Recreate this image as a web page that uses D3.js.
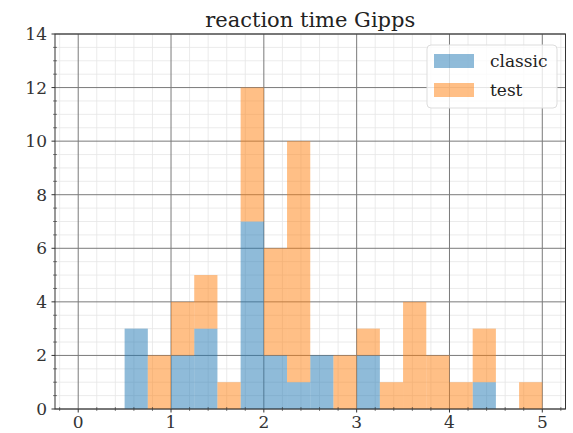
<!DOCTYPE html>
<html><head><meta charset="utf-8">
<script src="https://cdn.jsdelivr.net/npm/d3@7"></script>
<style>body{margin:0;background:#fff}svg{display:block}</style>
</head><body><svg id="c" width="573" height="433"></svg>
<script>
const title = "reaction time Gipps";
const seriesNames = ["classic", "test"];
const binStarts = [0.5,0.75,1.0,1.25,1.5,1.75,2.0,2.25,2.5,2.75,3.0,3.25,3.5,3.75,4.0,4.25,4.5,4.75];
const binWidth = 0.25;
const classicCounts = [3,0,2,3,0,7,2,1,2,0,2,0,0,0,0,1,0,0];
const testCounts    = [0,2,2,2,1,5,4,9,0,2,1,1,4,2,1,2,0,1];
const xTicks = [0,1,2,3,4,5];
const yTicks = [0,2,4,6,8,10,12,14];
const colors = ["#1f77b4", "#ff7f0e"];

const svg = d3.select("#c");
const m = {l:55, r:565.5, t:34, b:409};
const x = d3.scaleLinear().domain([-0.25, 5.25]).range([m.l, m.r]);
const y = d3.scaleLinear().domain([0, 14]).range([m.b, m.t]);
const font = "'DejaVu Serif', serif";

// minor grid
const xMinor = d3.range(-0.2, 5.25, 0.2).filter(v => Math.abs(v - Math.round(v)) > 1e-6);
const yMinor = d3.range(0.5, 14, 0.5).filter(v => Math.abs(v/2 - Math.round(v/2)) > 1e-6);
const g = svg.append("g");
g.selectAll(".mx").data(xMinor).join("line")
  .attr("x1", d=>x(d)).attr("x2", d=>x(d)).attr("y1", m.t).attr("y2", m.b)
  .attr("stroke", "#e6e6e6").attr("stroke-width", 0.8);
g.selectAll(".my").data(yMinor).join("line")
  .attr("x1", m.l).attr("x2", m.r).attr("y1", d=>y(d)).attr("y2", d=>y(d))
  .attr("stroke", "#e6e6e6").attr("stroke-width", 0.8);
// major grid
g.selectAll(".gx").data(xTicks).join("line")
  .attr("x1", d=>x(d)).attr("x2", d=>x(d)).attr("y1", m.t).attr("y2", m.b)
  .attr("stroke", "#7a7a7a").attr("stroke-width", 1);
g.selectAll(".gy").data(yTicks).join("line")
  .attr("x1", m.l).attr("x2", m.r).attr("y1", d=>y(d)).attr("y2", d=>y(d))
  .attr("stroke", "#7a7a7a").attr("stroke-width", 1);

// stacked bars
const rows = binStarts.map((b,i)=>({bin:b, classic:classicCounts[i], test:testCounts[i]}));
const stack = d3.stack().keys(seriesNames)(rows);
stack.forEach((layer, k) => {
  svg.append("g").selectAll("rect").data(layer.filter(d => d[1] > d[0])).join("rect")
    .attr("x", d => x(d.data.bin))
    .attr("width", d => x(d.data.bin + binWidth) - x(d.data.bin))
    .attr("y", d => y(d[1]))
    .attr("height", d => y(d[0]) - y(d[1]))
    .attr("fill", colors[k]).attr("fill-opacity", 0.5);
});

// spines
svg.append("rect").attr("x", m.l).attr("y", m.t).attr("width", m.r-m.l).attr("height", m.b-m.t)
  .attr("fill", "none").attr("stroke", "#333").attr("stroke-width", 1);

// ticks
const ax = svg.append("g").attr("stroke", "#333");
ax.selectAll(".tx").data(xTicks).join("line")
  .attr("x1", d=>x(d)).attr("x2", d=>x(d)).attr("y1", m.b).attr("y2", m.b+3.5);
ax.selectAll(".ty").data(yTicks).join("line")
  .attr("x1", m.l-3.5).attr("x2", m.l).attr("y1", d=>y(d)).attr("y2", d=>y(d));
ax.selectAll(".tmx").data(xMinor).join("line")
  .attr("x1", d=>x(d)).attr("x2", d=>x(d)).attr("y1", m.b-2).attr("y2", m.b+2).attr("stroke-width", 0.6);
ax.selectAll(".tmy").data(yMinor).join("line")
  .attr("x1", m.l-2).attr("x2", m.l+2).attr("y1", d=>y(d)).attr("y2", d=>y(d)).attr("stroke-width", 0.6);

// tick labels
svg.append("g").selectAll("text").data(xTicks).join("text")
  .attr("x", d=>x(d)).attr("y", m.b+19).attr("text-anchor", "middle")
  .attr("font-family", font).attr("font-size", 17).attr("fill", "#333").text(d=>d);
svg.append("g").selectAll("text").data(yTicks).join("text")
  .attr("x", m.l-8).attr("y", d=>y(d)+6).attr("text-anchor", "end")
  .attr("font-family", font).attr("font-size", 17).attr("fill", "#333").text(d=>d);

// title
svg.append("text").attr("x", (m.l+m.r)/2).attr("y", 27).attr("text-anchor", "middle")
  .attr("font-family", font).attr("font-size", 21).attr("fill", "#222").text(title);

// legend
const lg = svg.append("g");
lg.append("rect").attr("x", 427).attr("y", 45).attr("width", 130).attr("height", 63).attr("rx", 4)
  .attr("fill", "#fff").attr("fill-opacity", 0.8).attr("stroke", "#ddd");
seriesNames.forEach((n,i) => {
  lg.append("rect").attr("x", 434).attr("y", 54 + i*29).attr("width", 40).attr("height", 14)
    .attr("fill", colors[i]).attr("fill-opacity", 0.5);
  lg.append("text").attr("x", 490).attr("y", 67 + i*29).attr("font-family", font)
    .attr("font-size", 17).attr("fill", "#222").text(n);
});
</script></body></html>
